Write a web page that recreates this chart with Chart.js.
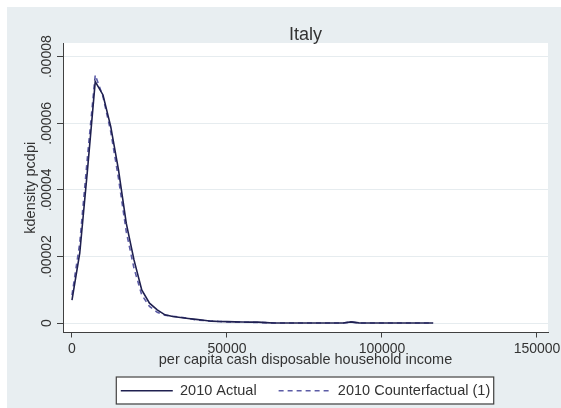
<!DOCTYPE html>
<html>
<head>
<meta charset="utf-8">
<script src="https://cdn.jsdelivr.net/npm/chart.js@4.4.1/dist/chart.umd.min.js"></script>
<style>
  html, body { margin: 0; padding: 0; background: #fff; }
  canvas { display: block; }
</style>
</head>
<body>
<canvas id="chart" width="561" height="408"></canvas>
<script>
// kdensity estimates (income in local currency)
const incomeX = [0, 2500, 5000, 7500, 10000, 12500, 15000, 17500, 20000, 22500,
  25000, 27500, 30000, 32500, 35000, 37500, 40000, 42500, 45000, 47500,
  50000, 52500, 55000, 57500, 60000, 62500, 65000, 67500, 70000, 72500,
  75000, 77500, 80000, 82500, 85000, 87500, 90000, 92500, 95000, 97500,
  100000, 102500, 105000, 107500, 110000, 112500, 115000, 116500];

const actualDensity = [6.9e-6, 2.1e-5, 4.6e-5, 7.25e-5, 6.85e-5, 5.9e-5, 4.6e-5, 3.0e-5, 1.9e-5, 1.0e-5,
  6.0e-6, 4.0e-6, 2.5e-6, 2.0e-6, 1.7e-6, 1.4e-6, 1.15e-6, 9e-7, 6e-7, 5e-7,
  4.5e-7, 4e-7, 3.5e-7, 3e-7, 3e-7, 1.5e-7, 5e-8, 5e-8, 5e-8, 5e-8,
  5e-8, 5e-8, 5e-8, 5e-8, 5e-8, 5e-8, 4e-7, 8e-8, 4e-8, 4e-8,
  4e-8, 4e-8, 4e-8, 4e-8, 4e-8, 4e-8, 4e-8, 3e-8];

const counterfactualDensity = [8.4e-6, 2.4e-5, 5.0e-5, 7.45e-5, 6.8e-5, 5.75e-5, 4.35e-5, 2.75e-5, 1.65e-5, 8.5e-6,
  5.0e-6, 3.3e-6, 2.4e-6, 2.1e-6, 1.8e-6, 1.4e-6, 1.0e-6, 8e-7, 6e-7, 5e-7,
  4e-7, 3.5e-7, 3e-7, 2.5e-7, 2e-7, 1.5e-7, 8e-8, 5e-8, 5e-8, 5e-8,
  5e-8, 5e-8, 5e-8, 5e-8, 5e-8, 5e-8, 3.5e-7, 8e-8, 4e-8, 4e-8,
  4e-8, 4e-8, 4e-8, 4e-8, 4e-8, 4e-8, 4e-8, 3e-8];

const xTickValues = [0, 50000, 100000, 150000];
const yTickValues = [0, 0.00002, 0.00004, 0.00006, 0.00008];
const yTickLabels = ['0', '.00002', '.00004', '.00006', '.00008'];

const FONT = 'Liberation Sans, Arial, sans-serif';
const TEXT = '#333333';
const GRAPH_BG = '#e8eef1';

const toPoints = (ys) => incomeX.map((x, i) => ({x: x, y: ys[i]}));

// stata-ish backdrop: white margin, grey graph region, white plot region, boxed legend
const backdrop = {
  id: 'backdrop',
  beforeDraw(chart) {
    const {ctx, chartArea} = chart;
    ctx.save();
    ctx.fillStyle = '#ffffff';
    ctx.fillRect(0, 0, chart.width, chart.height);
    ctx.fillStyle = GRAPH_BG;
    ctx.fillRect(7, 7, chart.width - 7, chart.height - 7);
    ctx.fillStyle = '#ffffff';
    ctx.fillRect(chartArea.left, chartArea.top, chartArea.right - chartArea.left, chartArea.bottom - chartArea.top);

    const boxes = chart.legend.legendHitBoxes;
    if (boxes && boxes.length) {
      const first = boxes[0];
      const last = boxes[boxes.length - 1];
      const l = first.left - 5, r = last.left + last.width + 3;
      const t = first.top - 7, b = first.top + 20;
      ctx.fillStyle = '#ffffff';
      ctx.fillRect(l, t, r - l, b - t);
      ctx.strokeStyle = '#404040';
      ctx.lineWidth = 1.2;
      ctx.strokeRect(l + 0.5, t + 0.5, r - l, b - t);
    }
    ctx.restore();
  }
};

// y labels are vertical in the original, drawn at the scale's own tick pixels
const verticalYLabels = {
  id: 'verticalYLabels',
  afterDraw(chart) {
    const {ctx} = chart;
    const scale = chart.scales.y;
    ctx.save();
    ctx.fillStyle = TEXT;
    ctx.font = '14px ' + FONT;
    ctx.textAlign = 'center';
    ctx.textBaseline = 'middle';
    yTickValues.forEach((v, i) => {
      ctx.save();
      ctx.translate(47, scale.getPixelForValue(v));
      ctx.rotate(-Math.PI / 2);
      ctx.fillText(yTickLabels[i], 0, 0);
      ctx.restore();
    });
    ctx.restore();
  }
};

new Chart(document.getElementById('chart'), {
  type: 'line',
  data: {
    datasets: [
      {
        label: '2010 Actual',
        data: toPoints(actualDensity),
        borderColor: '#1f2050',
        backgroundColor: '#1f2050',
        borderWidth: 1.6,
        pointRadius: 0,
        tension: 0
      },
      {
        label: '2010 Counterfactual (1)',
        data: toPoints(counterfactualDensity),
        borderColor: '#5c5ca6',
        backgroundColor: '#5c5ca6',
        borderWidth: 1.6,
        borderDash: [5, 4],
        pointRadius: 0,
        tension: 0
      }
    ]
  },
  options: {
    responsive: false,
    animation: false,
    devicePixelRatio: 1,
    layout: { padding: { top: 25, left: 20, right: 13, bottom: 0 } },
    scales: {
      x: {
        type: 'linear',
        min: -2900,
        max: 153550,
        afterBuildTicks: (s) => { s.ticks = xTickValues.map(v => ({value: v})); },
        afterFit: (s) => { s.height = 29; s.paddingLeft = 0; s.paddingRight = 0; },
        grid: { drawOnChartArea: false, tickLength: 5, tickColor: '#404040', tickWidth: 1 },
        border: { color: '#404040', width: 1 },
        ticks: {
          font: { family: FONT, size: 14 },
          color: TEXT,
          padding: 3,
          maxRotation: 0,
          callback: (v) => String(v)
        },
        title: {
          display: true,
          text: 'per capita cash disposable household income',
          font: { family: FONT, size: 14.5 },
          color: TEXT,
          padding: { top: 0, bottom: -7 }
        }
      },
      y: {
        type: 'linear',
        min: -0.0000028,
        max: 0.0000841,
        afterBuildTicks: (s) => { s.ticks = yTickValues.map(v => ({value: v})); },
        afterFit: (s) => { s.width = 43; s.paddingTop = 0; s.paddingBottom = 0; },
        grid: { color: '#e6ecef', tickLength: 6, tickColor: '#404040', tickWidth: 1 },
        border: { color: '#404040', width: 1 },
        ticks: { display: false },
        title: {
          display: true,
          text: 'kdensity pcdpi',
          font: { family: FONT, size: 14.5 },
          color: TEXT,
          padding: { top: 2.3, bottom: 0 }
        }
      }
    },
    plugins: {
      title: {
        display: true,
        text: 'Italy',
        fullSize: false,
        font: { family: FONT, size: 18, weight: 'normal', lineHeight: 1 },
        color: TEXT,
        padding: { top: 1, bottom: -1 }
      },
      legend: {
        position: 'bottom',
        fullSize: false,
        maxHeight: 58,
        labels: {
          usePointStyle: true,
          pointStyle: 'line',
          pointStyleWidth: 52,
          padding: 22,
          color: TEXT,
          font: { family: FONT, size: 14.5 },
          // point-style items lose the dataset dash, so build them here
          generateLabels: (chart) => chart.data.datasets.map((ds, i) => ({
            text: ds.label,
            datasetIndex: i,
            fillStyle: ds.borderColor,
            strokeStyle: ds.borderColor,
            lineWidth: ds.borderWidth,
            lineDash: ds.borderDash || [],
            pointStyle: 'line',
            fontColor: TEXT,
            hidden: false
          }))
        }
      },
      tooltip: { enabled: false }
    }
  },
  plugins: [backdrop, verticalYLabels]
});
</script>
</body>
</html>
